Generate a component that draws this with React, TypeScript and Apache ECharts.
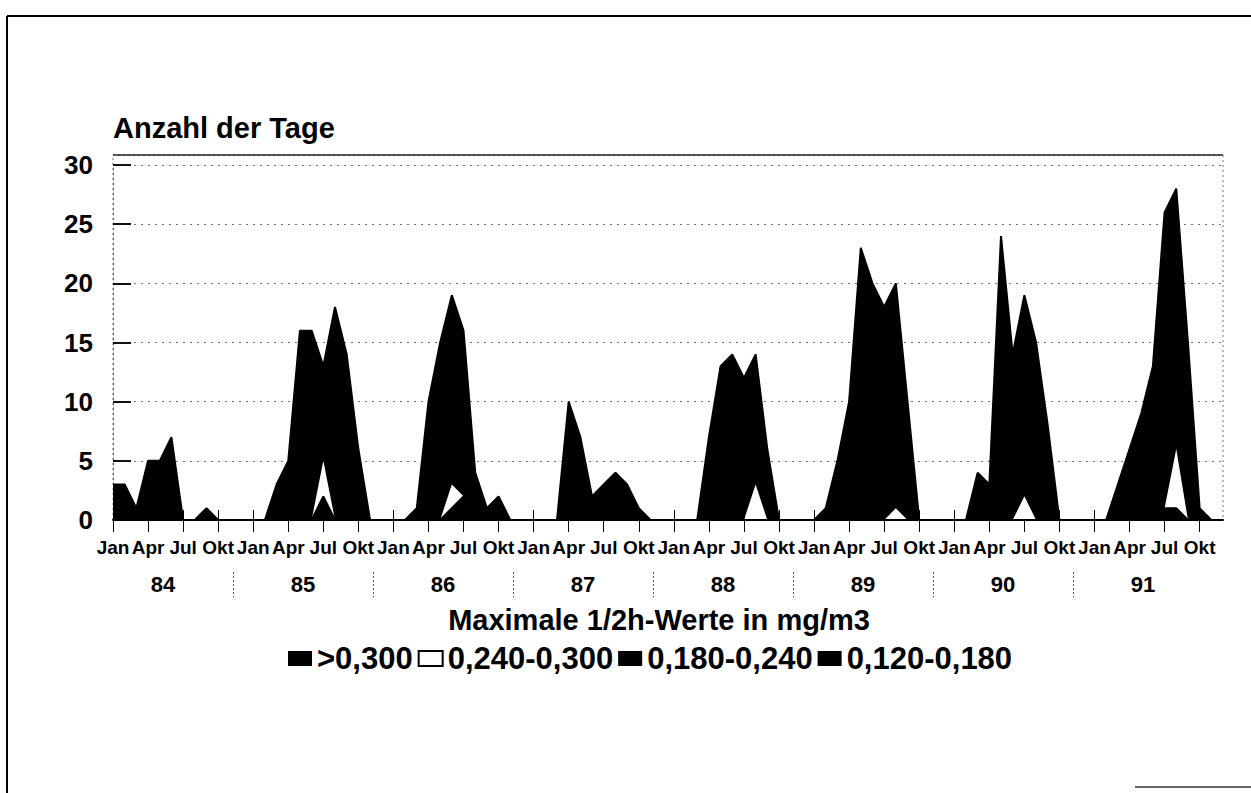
import React, { useEffect, useRef } from 'react';
import * as echarts from 'echarts';

const MONTHS = ['Jan', 'Feb', 'Mär', 'Apr', 'Mai', 'Jun', 'Jul', 'Aug', 'Sep', 'Okt', 'Nov', 'Dez'];
const YEARS = ['84', '85', '86', '87', '88', '89', '90', '91'];
const SERIES_NAMES = ['>0,300', '0,240-0,300', '0,180-0,240', '0,120-0,180'];
const Y_TITLE = 'Anzahl der Tage';
const X_TITLE = 'Maximale 1/2h-Werte in mg/m3';

// number of days per month, one row per year (84 ... 91)
const GT_300 = [
  0, 0, 0, 0, 0, 0, 0, 0, 0, 0, 0, 0,
  0, 0, 0, 0, 0, 0, 2, 0, 0, 0, 0, 0,
  0, 0, 0, 0, 0, 1, 2, 0, 0, 0, 0, 0,
  0, 0, 0, 0, 0, 0, 0, 0, 0, 0, 0, 0,
  0, 0, 0, 0, 0, 0, 0, 0, 0, 0, 0, 0,
  0, 0, 0, 0, 0, 0, 0, 0, 0, 0, 0, 0,
  0, 0, 0, 0, 0, 0, 0, 0, 0, 0, 0, 0,
  0, 0, 0, 0, 0, 0, 1, 1, 0, 0, 0, 0,
];
const R_240_300 = [
  0, 0, 0, 0, 0, 0, 0, 0, 0, 0, 0, 0,
  0, 0, 0, 0, 0, 0, 3, 0, 0, 0, 0, 0,
  0, 0, 0, 0, 0, 2, 0, 0, 0, 0, 0, 0,
  0, 0, 0, 0, 0, 0, 0, 0, 0, 0, 0, 0,
  0, 0, 0, 0, 0, 0, 0, 3, 0, 0, 0, 0,
  0, 0, 0, 0, 0, 0, 0, 1, 0, 0, 0, 0,
  0, 0, 0, 0, 0, 0, 2, 0, 0, 0, 0, 0,
  0, 0, 0, 0, 0, 0, 0, 5, 0, 0, 0, 0,
];
const R_180_240 = [
  1, 1, 0, 1, 2, 2, 0, 0, 0, 0, 0, 0,
  0, 0, 1, 1, 5, 5, 3, 6, 4, 2, 0, 0,
  0, 0, 0, 3, 5, 5, 4, 1, 0, 1, 0, 0,
  0, 0, 0, 3, 2, 1, 1, 1, 1, 0, 0, 0,
  0, 0, 0, 2, 4, 4, 4, 3, 2, 0, 0, 0,
  0, 0, 1, 3, 7, 6, 5, 6, 3, 0, 0, 0,
  0, 0, 1, 1, 7, 4, 5, 4, 2, 0, 0, 0,
  0, 0, 1, 2, 3, 4, 8, 7, 4, 0, 0, 0,
];
const R_120_180 = [
  2, 2, 1, 4, 3, 5, 0, 0, 1, 0, 0, 0,
  0, 0, 2, 4, 11, 11, 5, 12, 10, 4, 0, 0,
  0, 0, 1, 7, 10, 11, 10, 3, 1, 1, 0, 0,
  0, 0, 0, 7, 5, 1, 2, 3, 2, 1, 0, 0,
  0, 0, 0, 5, 9, 10, 8, 8, 4, 0, 0, 0,
  0, 1, 4, 7, 16, 14, 13, 13, 7, 0, 0, 0,
  0, 0, 3, 2, 17, 10, 12, 11, 6, 0, 0, 0,
  0, 0, 2, 4, 6, 9, 17, 15, 11, 1, 0, 0,
];

const SERIES_DATA = [GT_300, R_240_300, R_180_240, R_120_180];
const SERIES_FILL = ['#000000', '#ffffff', '#000000', '#000000'];

const CATEGORIES = YEARS.flatMap((y) => MONTHS.map((m) => `${m} ${y}`));
// year row: boundary slots ("|n") alternating with year labels
const YEAR_SLOTS = YEARS.flatMap((y, i) => [`|${i}`, y]).concat([`|${YEARS.length}`]);

const FONT = "'Liberation Sans', Arial, Helvetica, sans-serif";

export default function App() {
  const ref = useRef<HTMLDivElement>(null);

  useEffect(() => {
    const chart = echarts.init(ref.current as HTMLDivElement, null, { renderer: 'svg' });
    const lastSlot = `|${YEARS.length}`;
    chart.setOption({
      animation: false,
      backgroundColor: '#ffffff',
      textStyle: { fontFamily: FONT },
      grid: [
        { left: 113, right: 28, top: 165, bottom: 273 },
        { left: 93, right: 38, top: 165, bottom: 221 },
      ],
      xAxis: [
        {
          type: 'category',
          gridIndex: 0,
          data: CATEGORIES,
          boundaryGap: false,
          axisLine: { show: true, lineStyle: { color: '#000', width: 2 } },
          axisTick: { show: true, interval: 2, length: 12, lineStyle: { color: '#000', width: 1 } },
          axisLabel: {
            interval: 2,
            margin: 18,
            fontSize: 19,
            fontWeight: 'bold',
            color: '#000',
            fontFamily: FONT,
            formatter: (v: string) => v.split(' ')[0],
          },
          splitLine: { show: false },
        },
        {
          type: 'category',
          gridIndex: 1,
          data: YEAR_SLOTS,
          boundaryGap: false,
          position: 'bottom',
          axisLine: { show: false },
          axisTick: {
            show: true,
            length: 25,
            interval: (_i: number, v: string) => v.charAt(0) === '|' && v !== '|0' && v !== lastSlot,
            lineStyle: { color: '#555', width: 1, type: [2, 2] },
          },
          axisLabel: {
            interval: (_i: number, v: string) => v.charAt(0) !== '|',
            margin: 1,
            fontSize: 22,
            fontWeight: 'bold',
            color: '#000',
            fontFamily: FONT,
          },
          splitLine: { show: false },
        },
        {
          type: 'category',
          gridIndex: 0,
          data: CATEGORIES,
          boundaryGap: false,
          position: 'bottom',
          axisLine: { show: false },
          axisTick: { show: true, inside: true, interval: 2, length: 10, lineStyle: { color: '#000', width: 1 } },
          axisLabel: { show: false },
          splitLine: { show: false },
        },
      ],
      yAxis: [
        {
          type: 'value',
          gridIndex: 0,
          min: 0,
          max: 30,
          interval: 5,
          axisLine: { show: true, lineStyle: { color: '#666', width: 1, type: [2, 3] } },
          axisTick: { show: true, inside: true, length: 18, lineStyle: { color: '#111', width: 2 } },
          axisLabel: { margin: 20, fontSize: 26, fontWeight: 'bold', color: '#000', fontFamily: FONT },
          splitLine: { show: true, lineStyle: { color: '#777', width: 1, type: [2, 5] } },
        },
        { type: 'value', gridIndex: 1, show: false, min: 0, max: 30 },
      ],
      legend: {
        left: 283,
        top: 638,
        icon: 'rect',
        itemWidth: 24,
        itemHeight: 15,
        itemGap: 5,
        selectedMode: false,
        textStyle: { fontSize: 31, fontWeight: 'bold', color: '#000', fontFamily: FONT },
        data: SERIES_NAMES.map((name, i) => ({
          name,
          itemStyle:
            SERIES_FILL[i] === '#ffffff'
              ? { color: '#ffffff', borderColor: '#000', borderWidth: 2 }
              : { color: '#000000', borderColor: '#000', borderWidth: 0 },
        })),
      },
      graphic: [
        { type: 'line', silent: true, shape: { x1: 7, y1: 16, x2: 1251, y2: 16 }, style: { stroke: '#000', lineWidth: 2 } },
        { type: 'line', silent: true, shape: { x1: 7, y1: 16, x2: 7, y2: 793 }, style: { stroke: '#000', lineWidth: 2 } },
        { type: 'line', silent: true, shape: { x1: 1135, y1: 787, x2: 1251, y2: 787 }, style: { stroke: '#333', lineWidth: 1.5 } },
        {
          type: 'rect',
          silent: true,
          z: -1,
          shape: { x: 113, y: 155, width: 1110, height: 365 },
          style: { fill: 'none', stroke: '#777', lineWidth: 1, lineDash: [2, 3] },
        },
        { type: 'line', silent: true, shape: { x1: 113, y1: 155, x2: 1223, y2: 155 }, style: { stroke: '#222', lineWidth: 1.5 } },
        {
          type: 'text',
          silent: true,
          x: 113,
          y: 128,
          style: { text: Y_TITLE, fontSize: 29, fontWeight: 'bold', fontFamily: FONT, fill: '#000', align: 'left', verticalAlign: 'middle' },
        },
        {
          type: 'text',
          silent: true,
          x: 659,
          y: 620,
          style: { text: X_TITLE, fontSize: 29, fontWeight: 'bold', fontFamily: FONT, fill: '#000', align: 'center', verticalAlign: 'middle' },
        },
      ],
      series: SERIES_NAMES.map((name, i) => ({
        name,
        type: 'line',
        stack: 'tage',
        xAxisIndex: 0,
        yAxisIndex: 0,
        data: SERIES_DATA[i],
        symbol: 'none',
        smooth: false,
        silent: true,
        itemStyle: { color: SERIES_FILL[i] },
        lineStyle: SERIES_FILL[i] === '#ffffff' ? { width: 0, color: '#ffffff' } : { width: 2, color: '#000' },
        areaStyle: { color: SERIES_FILL[i], opacity: 1 },
      })),
    });
    return () => chart.dispose();
  }, []);

  return (
    <div
      ref={ref}
      style={{ position: 'absolute', left: 0, top: 0, width: 1251, height: 793, background: '#fff' }}
    />
  );
}
